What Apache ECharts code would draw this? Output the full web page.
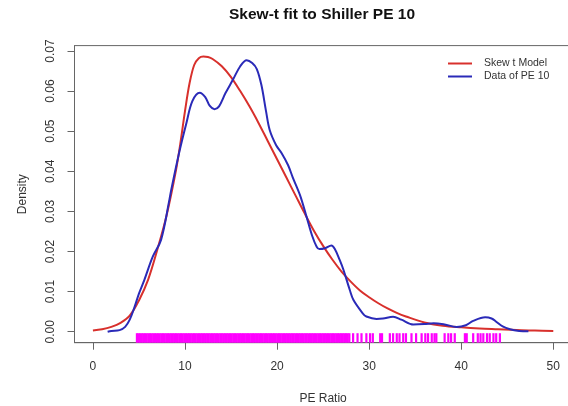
<!DOCTYPE html>
<html>
<head>
<meta charset="utf-8">
<script src="https://cdn.jsdelivr.net/npm/echarts@6/dist/echarts.min.js"></script>
<style>
  html, body { margin: 0; padding: 0; background: #fff; }
  #chart { width: 568px; height: 406px; }
</style>
</head>
<body>
<div id="chart"></div>
<script>
// Fitted skew-t density (x = PE ratio, y = density)
const modelX = [0, 1, 2, 3, 4, 5, 6, 7, 8, 9, 9.5, 10, 10.5, 11, 11.5, 12, 12.5, 13, 14, 15, 16, 17, 18, 19, 20, 21, 22, 23, 24, 25, 26, 27, 28, 29, 30, 31, 32, 33, 34, 36, 38, 40, 42, 44, 46, 48, 50];
const modelY = [0.0003, 0.0006, 0.0012, 0.0022, 0.0040, 0.0078, 0.0130, 0.0205, 0.0290, 0.0400, 0.0470, 0.0550, 0.0620, 0.0665, 0.0682, 0.0686, 0.0685, 0.0680, 0.0662, 0.0635, 0.0600, 0.0562, 0.0520, 0.0475, 0.0430, 0.0385, 0.0340, 0.0295, 0.0252, 0.0214, 0.0180, 0.0150, 0.0125, 0.0103, 0.0086, 0.0071, 0.0058, 0.0047, 0.0038, 0.0023, 0.0015, 0.0011, 0.0008, 0.0006, 0.0004, 0.0003, 0.0002];

// Kernel density estimate of the PE 10 observations
const kdeX = [1.6, 2.0, 2.9, 3.5, 4.0, 4.5, 5.0, 5.6, 6.5, 7.4, 8.3, 8.5, 9.4, 10.15, 10.8, 11.6, 12.2, 12.7, 13.2, 13.7, 14.4, 15.2, 16.0, 16.7, 17.3, 17.8, 18.3, 18.8, 19.2, 19.9, 20.5, 21.2, 21.7, 22.5, 23.2, 23.8, 24.3, 24.6, 25.2, 25.9, 26.3, 26.8, 27.2, 27.9, 28.3, 29.3, 29.7, 30.8, 31.5, 32.6, 33.5, 34.8, 36.0, 37.0, 38.2, 39.5, 40.5, 41.3, 42.6, 43.3, 43.8, 44.5, 45.3, 46.3, 47.3];
const kdeY = [0.0000, 0.0002, 0.0004, 0.0012, 0.0030, 0.0060, 0.0095, 0.0130, 0.0187, 0.0229, 0.0328, 0.0353, 0.0450, 0.0520, 0.0575, 0.0596, 0.0585, 0.0563, 0.0555, 0.0562, 0.0595, 0.0628, 0.0662, 0.0677, 0.0670, 0.0655, 0.0615, 0.0550, 0.0503, 0.0465, 0.0445, 0.0415, 0.0385, 0.0340, 0.0287, 0.0240, 0.0212, 0.0206, 0.0208, 0.0215, 0.0205, 0.0179, 0.0155, 0.0104, 0.0079, 0.0046, 0.0038, 0.0032, 0.0033, 0.0037, 0.0030, 0.0018, 0.0019, 0.0021, 0.0018, 0.0012, 0.0016, 0.0027, 0.0036, 0.0033, 0.0025, 0.0013, 0.0006, 0.0002, 0.0001];

// Individual PE 10 observations shown as a rug along the x axis
const rugValues = [
  4.78, 4.95, 5.12, 5.31, 5.48, 5.66, 5.84, 6.02, 6.19, 6.37, 6.55, 6.73, 6.90, 7.08, 7.26, 7.44, 7.61, 7.79, 7.97, 8.15,
  8.32, 8.50, 8.68, 8.86, 9.03, 9.21, 9.39, 9.57, 9.74, 9.92, 10.10, 10.28, 10.45, 10.63, 10.81, 10.99, 11.16, 11.34, 11.52, 11.70,
  11.87, 12.05, 12.23, 12.41, 12.58, 12.76, 12.94, 13.12, 13.29, 13.47, 13.65, 13.83, 14.00, 14.18, 14.36, 14.54, 14.71, 14.89, 15.07, 15.25,
  15.42, 15.60, 15.78, 15.96, 16.13, 16.31, 16.49, 16.67, 16.84, 17.02, 17.20, 17.38, 17.55, 17.73, 17.91, 18.09, 18.26, 18.44, 18.62, 18.80,
  18.97, 19.15, 19.33, 19.51, 19.68, 19.86, 20.04, 20.22, 20.39, 20.57, 20.75, 20.93, 21.10, 21.28, 21.46, 21.64, 21.81, 21.99, 22.17, 22.35,
  22.52, 22.70, 22.88, 23.06, 23.23, 23.41, 23.59, 23.77, 23.94, 24.12, 24.30, 24.48, 24.65, 24.83, 25.01, 25.19, 25.36, 25.54, 25.72, 25.90,
  26.07, 26.25, 26.43, 26.61, 26.78, 26.96, 27.14, 27.32, 27.49, 27.67, 27.85,
  28.26, 28.74, 29.17, 29.70, 30.10, 30.40, 31.20, 31.40, 32.25, 32.60, 33.00, 33.30, 33.70, 34.00, 34.60, 35.10, 35.70, 36.10, 36.40, 36.80,
  37.10, 37.30, 38.20, 38.60, 38.90, 39.30, 40.40, 40.60, 41.30, 41.80, 42.10, 42.40, 42.80, 43.10, 43.50, 43.80, 44.20
];

const xTicks = [0, 10, 20, 30, 40, 50];
const yTicks = [0, 0.01, 0.02, 0.03, 0.04, 0.05, 0.06, 0.07];

const X_MIN = -2, X_MAX = 52;
const Y_MIN = -0.00274, Y_MAX = 0.07134;

const pairs = (xs, ys) => xs.map((x, i) => [x, ys[i]]);

const FONT = '"Liberation Sans", Arial, sans-serif';
const AXIS_COLOR = '#666';
const TEXT_COLOR = '#333';

const chart = echarts.init(document.getElementById('chart'), null, { renderer: 'canvas' });

chart.setOption({
  animation: false,
  backgroundColor: '#fff',
  textStyle: { fontFamily: FONT },
  title: {
    text: 'Skew-t fit to Shiller PE 10',
    left: 229,
    top: 7,
    padding: 0,
    textStyle: { fontFamily: FONT, fontSize: 15.5, fontWeight: 'bold', color: '#111' }
  },
  legend: {
    orient: 'vertical',
    left: 448,
    top: 58,
    padding: 0,
    itemGap: 2,
    itemWidth: 24,
    itemHeight: 2,
    icon: 'rect',
    textStyle: { fontFamily: FONT, fontSize: 10.5, color: TEXT_COLOR, padding: [0, 0, 0, 7], lineHeight: 11 },
    data: ['Skew t Model', 'Data of PE 10']
  },
  grid: {
    left: 74.5,
    top: 45.6,
    width: 497.2,
    height: 297.1,
    outerBoundsMode: 'none',
    containLabel: false,
    show: true,
    borderColor: AXIS_COLOR,
    borderWidth: 1,
    backgroundColor: 'transparent'
  },
  xAxis: {
    type: 'value',
    min: X_MIN,
    max: X_MAX,
    name: 'PE Ratio',
    nameLocation: 'middle',
    nameGap: 50,
    nameTextStyle: { fontFamily: FONT, fontSize: 12, color: TEXT_COLOR },
    axisLine: { show: true, onZero: false, lineStyle: { color: AXIS_COLOR } },
    axisTick: { show: true, length: 7, lineStyle: { color: AXIS_COLOR }, customValues: xTicks },
    axisLabel: { fontFamily: FONT, fontSize: 12, color: TEXT_COLOR, margin: 18, customValues: xTicks },
    splitLine: { show: false }
  },
  yAxis: {
    type: 'value',
    min: Y_MIN,
    max: Y_MAX,
    name: 'Density',
    nameLocation: 'middle',
    nameGap: 46,
    nameTextStyle: { fontFamily: FONT, fontSize: 12, color: TEXT_COLOR },
    axisLine: { show: true, onZero: false, lineStyle: { color: AXIS_COLOR } },
    axisTick: { show: true, length: 7, lineStyle: { color: AXIS_COLOR }, customValues: yTicks },
    axisLabel: {
      fontFamily: FONT, fontSize: 12, color: TEXT_COLOR, margin: 18, rotate: 90,
      customValues: yTicks,
      formatter: v => v.toFixed(2)
    },
    splitLine: { show: false }
  },
  series: [
    {
      name: 'Skew t Model',
      type: 'line',
      data: pairs(modelX, modelY),
      smooth: 0.35,
      showSymbol: false,
      lineStyle: { color: '#d8302c', width: 2 },
      itemStyle: { color: '#d8302c' },
      z: 3
    },
    {
      name: 'Data of PE 10',
      type: 'line',
      data: pairs(kdeX, kdeY),
      smooth: 0.35,
      showSymbol: false,
      lineStyle: { color: '#2a2ab8', width: 2 },
      itemStyle: { color: '#2a2ab8' },
      z: 4
    },
    {
      name: 'rug',
      type: 'custom',
      data: rugValues.map(v => [v, Y_MIN]),
      encode: { x: 0, y: 1 },
      renderItem: (params, api) => {
        const p = api.coord([api.value(0), Y_MIN]);
        return {
          type: 'line',
          shape: { x1: p[0], y1: p[1], x2: p[0], y2: p[1] - 9.5 },
          style: { stroke: '#ff00ff', lineWidth: 2.2 }
        };
      },
      z: 2
    }
  ]
});
</script>
</body>
</html>
